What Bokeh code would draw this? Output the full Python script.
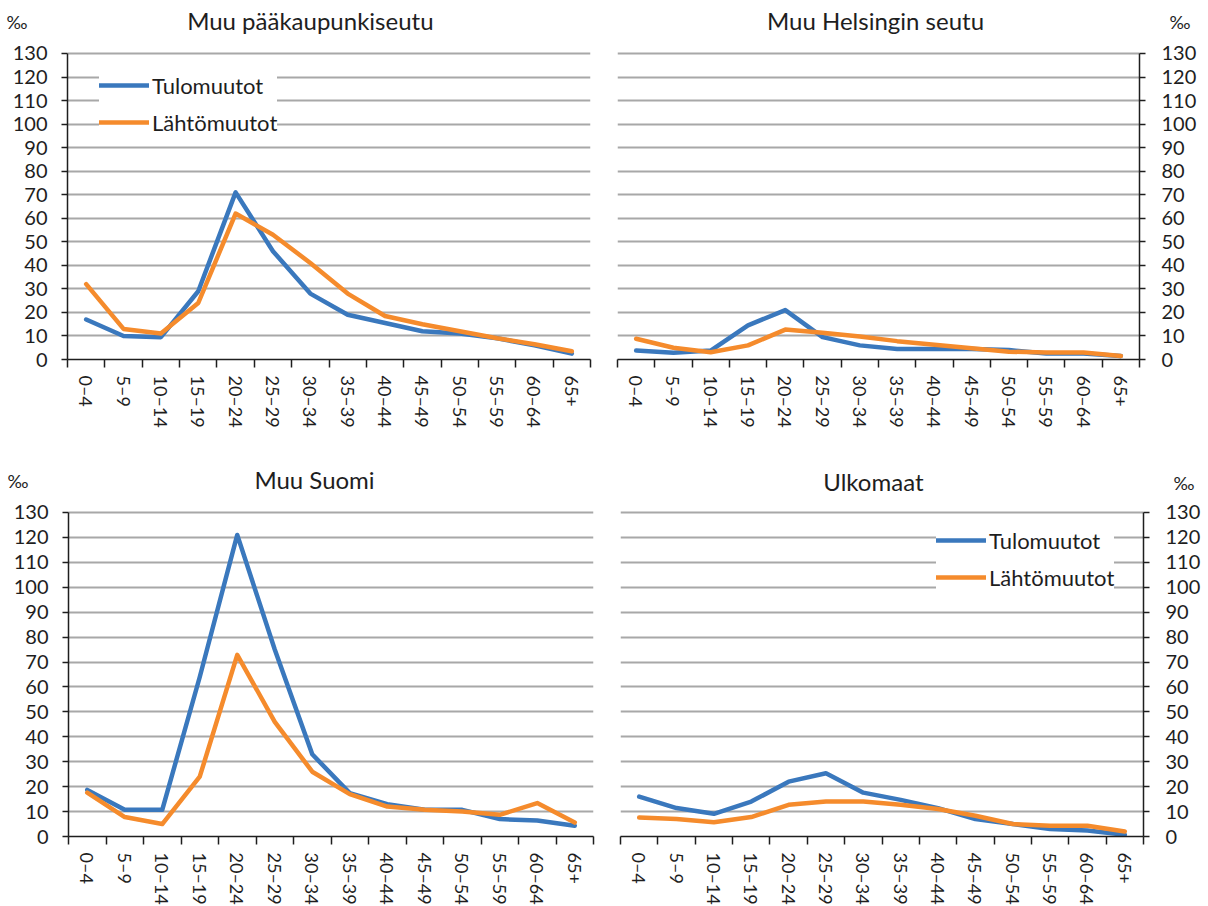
import math
from bokeh.plotting import figure
from bokeh.models import FixedTicker, Range1d, Label, Legend, LegendItem, LinearAxis
from bokeh.layouts import column, row
from bokeh.embed import file_html
from bokeh.resources import INLINE

# ---------------- data ----------------
age_groups = ["0–4", "5–9", "10–14", "15–19", "20–24", "25–29", "30–34",
              "35–39", "40–44", "45–49", "50–54", "55–59", "60–64", "65+"]
y_ticks = [0, 10, 20, 30, 40, 50, 60, 70, 80, 90, 100, 110, 120, 130]
series_names = ["Tulomuutot", "Lähtömuutot"]
panel_titles = ["Muu pääkaupunkiseutu", "Muu Helsingin seutu", "Muu Suomi", "Ulkomaat"]
unit_label = "‰"

paakaupunkiseutu_tulo = [17, 10, 9.5, 29, 71, 46, 28, 19, 15.5, 12, 11, 9, 6, 2.5]
paakaupunkiseutu_lahto = [32, 13, 11, 24, 62, 53, 41, 28, 18.5, 15, 12, 9, 6.5, 3.5]

helsinginseutu_tulo = [3.8, 2.9, 3.8, 14.5, 21, 9.5, 6, 4.5, 4.5, 4.5, 4, 2.5, 2.5, 1.5]
helsinginseutu_lahto = [8.8, 5, 3.1, 6, 12.7, 11.4, 9.8, 7.8, 6.3, 4.8, 3.3, 3, 3, 1.5]

suomi_tulo = [18.7, 10.7, 10.7, 64, 121, 75, 33, 17.4, 13, 10.7, 10.7, 7, 6.4, 4.3]
suomi_lahto = [17.6, 7.8, 5, 24, 72.9, 46, 26, 17, 12, 10.7, 10, 8.7, 13.4, 5.6]

ulkomaat_tulo = [16, 11.4, 9.1, 14, 22, 25.4, 17.6, 14.7, 11.4, 7, 5, 3, 2.4, 0.7]
ulkomaat_lahto = [7.6, 7, 5.7, 7.8, 12.7, 14, 14, 12.7, 11, 8.3, 5, 4.3, 4.3, 2]

# ---------------- style ----------------
FONT = "Lato"
TEXT = "#1e1e1e"
BLUE = "#3a78bd"
ORANGE = "#f58b2c"
GRID = "#a8a8a8"

xs = list(range(len(age_groups)))


def make_panel(title, tulo, lahto, side, frame_w, frame_h, y_top, borders,
               title_xy, unit_y, unit_standoff, legend_loc=None):
    bl, br, bt, bb = borders
    p = figure(frame_width=frame_w, frame_height=frame_h,
               x_range=Range1d(-0.5, len(age_groups) - 0.5),
               y_range=Range1d(0, y_top),
               y_axis_location=side,
               output_backend="svg", toolbar_location=None,
               min_border_left=bl, min_border_right=br,
               min_border_top=bt, min_border_bottom=bb)
    p.background_fill_color = "white"
    p.border_fill_color = "white"
    p.outline_line_color = None

    # x axis: labels at category centres, tick marks at boundaries
    xa = p.xaxis[0]
    xa.ticker = FixedTicker(ticks=xs,
                            minor_ticks=[i - 0.5 for i in range(len(age_groups) + 1)])
    xa.major_label_overrides = {i: lab for i, lab in enumerate(age_groups)}
    xa.major_label_orientation = -math.pi / 2
    xa.major_tick_out = 0
    xa.major_tick_in = 0
    xa.minor_tick_out = 8
    xa.minor_tick_in = 0
    xa.minor_tick_line_color = TEXT
    xa.minor_tick_line_width = 1.5
    xa.axis_line_color = TEXT
    xa.axis_line_width = 1.5
    xa.major_label_standoff = 8
    xa.major_label_text_font = FONT
    xa.major_label_text_font_size = "18px"
    xa.major_label_text_color = TEXT

    ya = p.yaxis[0]
    ya.ticker = FixedTicker(ticks=y_ticks)
    ya.bounds = (0, 130)
    ya.major_tick_out = 6
    ya.major_tick_in = 0
    ya.minor_tick_out = 0
    ya.minor_tick_in = 0
    ya.major_tick_line_color = TEXT
    ya.major_tick_line_width = 1.5
    ya.axis_line_color = TEXT
    ya.axis_line_width = 1.5
    ya.major_label_standoff = 14 if side == "left" else 16
    ya.major_label_text_font = FONT
    ya.major_label_text_font_size = "20px"
    ya.major_label_text_color = TEXT

    # unit sign (‰) shown above the tick labels, on an unlined extra axis
    ua = LinearAxis(ticker=FixedTicker(ticks=[unit_y]),
                    major_label_overrides={unit_y: unit_label},
                    axis_line_color=None, major_tick_line_color=None,
                    minor_tick_line_color=None,
                    major_tick_out=0, major_tick_in=0,
                    minor_tick_out=0, minor_tick_in=0,
                    major_label_standoff=unit_standoff,
                    major_label_text_font=FONT,
                    major_label_text_font_size="18px",
                    major_label_text_color=TEXT)
    p.add_layout(ua, side)

    p.xgrid.visible = False
    p.ygrid.ticker = FixedTicker(ticks=y_ticks)
    p.ygrid.grid_line_color = GRID
    p.ygrid.grid_line_width = 1.8

    r1 = p.line(xs, tulo, line_color=BLUE, line_width=4.5,
                line_join="round", line_cap="round")
    r2 = p.line(xs, lahto, line_color=ORANGE, line_width=4.5,
                line_join="round", line_cap="round")

    p.add_layout(Label(x=title_xy[0], y=title_xy[1], text=title,
                       text_font=FONT, text_font_size="24px",
                       text_color=TEXT, text_align="center",
                       text_baseline="middle"))

    if legend_loc is not None:
        leg = Legend(items=[LegendItem(label=series_names[0], renderers=[r1]),
                            LegendItem(label=series_names[1], renderers=[r2])],
                     location=legend_loc, orientation="vertical",
                     label_text_font=FONT, label_text_font_size="22px",
                     label_text_color=TEXT,
                     glyph_width=50, glyph_height=30, label_height=30,
                     spacing=7, padding=6, margin=0, label_standoff=3,
                     border_line_color=None, background_fill_color="white",
                     background_fill_alpha=1.0)
        p.add_layout(leg)
    return p


# top row: 130 at y=53, 0 at y=359 (2.354 px per unit), frame top at y=4
tl = make_panel(panel_titles[0], paakaupunkiseutu_tulo, paakaupunkiseutu_lahto,
                "left", 523, 355, 150.8, (67, 14, 4, 86), (6.0, 144.0), 143.2, -18,
                legend_loc=(32, 222))
tr = make_panel(panel_titles[1], helsinginseutu_tulo, helsinginseutu_lahto,
                "right", 522, 355, 150.8, (13, 61, 4, 86), (6.42, 144.0), 143.2, -30)
# bottom row: 130 at y=512, 0 at y=836 (2.492 px per unit), frame top at y=461
bl = make_panel(panel_titles[2], suomi_tulo, suomi_lahto,
                "left", 525, 375, 150.46, (68, 11, 16, 66), (6.06, 143.3), 142.8, -18)
br = make_panel(panel_titles[3], ulkomaat_tulo, ulkomaat_lahto,
                "right", 523, 375, 150.46, (16, 57, 16, 66), (6.27, 142.5), 141.8, -30,
                legend_loc=(316, 244))

layout = column(row(tl, tr), row(bl, br))

with open("out.html", "w") as f:
    f.write(file_html(layout, INLINE))
